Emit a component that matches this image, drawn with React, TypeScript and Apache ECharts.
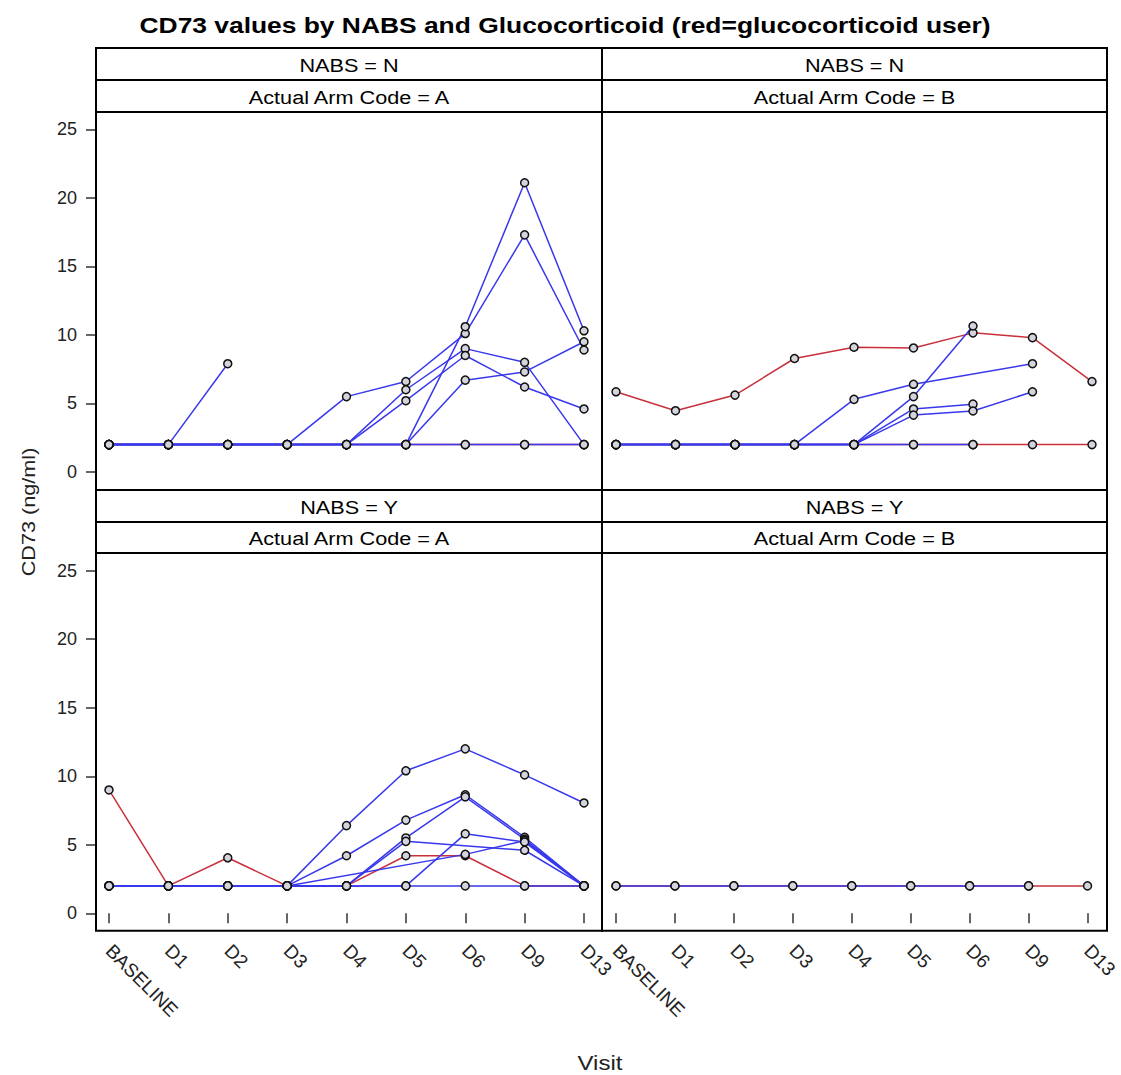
import React, { useEffect, useRef } from "react";
import * as echarts from "echarts";

const visits = ["BASELINE", "D1", "D2", "D3", "D4", "D5", "D6", "D9", "D13"];
const stripRow1 = ["NABS = N", "NABS = N", "NABS = Y", "NABS = Y"];
const stripRow2 = ["Actual Arm Code = A", "Actual Arm Code = B", "Actual Arm Code = A", "Actual Arm Code = B"];

// NABS = N, Arm A
const tlRed1 = [2, 2, 2, 2, 2, 2, 2, 2, 2];
const tlBlue1 = [2, 2, 7.9];
const tlBlue2 = [2, 2, 2, 2, 5.5, 6.6, 10.1, 17.3, 8.9];
const tlBlue3 = [2, 2, 2, 2, 2, 6.0, 9.0, 8.0, 2];
const tlBlue4 = [2, 2, 2, 2, 2, 5.2, 8.5, 6.2, 4.6];
const tlBlue5 = [2, 2, 2, 2, 2, 2, 10.6, 21.1, 10.3];
const tlBlue6 = [2, 2, 2, 2, 2, 2, 6.7, 7.3, 9.5];
const tlBlue7 = [2, 2, 2, 2, 2, 2, 2, 2, 2];

// NABS = N, Arm B
const trRed1 = [5.85, 4.47, 5.61, 8.28, 9.1, 9.05, 10.15, 9.8, 6.6];
const trRed2 = [2, 2, 2, 2, 2, 2, 2, 2, 2];
const trBlue1 = [2, 2, 2, 2, 5.3, 6.4, null, 7.9];
const trBlue2 = [2, 2, 2, 2, 2, 5.5, 10.65];
const trBlue3 = [2, 2, 2, 2, 2, 4.6, 4.95];
const trBlue4 = [2, 2, 2, 2, 2, 4.15, 4.45, 5.85];
const trBlue5 = [2, 2, 2, 2, 2, 2, 2];

// NABS = Y, Arm A
const blRed1 = [9.0, 2, 4.05, 2, 2, 4.2, 4.2, 2, 2];
const blBlue1 = [2, 2, 2, 2, 6.4, 10.4, 12.0, 10.1, 8.05];
const blBlue2 = [2, 2, 2, 2, 4.2, 6.8, 8.65, 5.55, 2];
const blBlue3 = [2, 2, 2, 2, 2, 5.5, 8.5, 5.4, 2];
const blBlue4 = [2, 2, 2, 2, null, null, 4.3, 5.3, 2];
const blBlue5 = [2, 2, 2, 2, 2, 2, 5.8, 5.2, 2];
const blBlue6 = [2, 2, 2, 2, 2, 5.25, null, 4.6, 2];
const blBlue7 = [2, 2, 2, 2, 2, 2, 2, 2, 2];

// NABS = Y, Arm B
const brRed1 = [2, 2, 2, 2, 2, 2, 2, 2, 2];
const brBlue1 = [2, 2, 2, 2, 2, 2, 2, 2];

const panelRed = [[tlRed1], [trRed1, trRed2], [blRed1], [brRed1]];
const panelBlue = [
  [tlBlue1, tlBlue2, tlBlue3, tlBlue4, tlBlue5, tlBlue6, tlBlue7],
  [trBlue1, trBlue2, trBlue3, trBlue4, trBlue5],
  [blBlue1, blBlue2, blBlue3, blBlue4, blBlue5, blBlue6, blBlue7],
  [brBlue1],
];

const RED = "#c8303c";
const BLUE = "#3838ec";
const FONT = "'Liberation Sans', Arial, sans-serif";

// layout
const colX = [
  [96, 602],
  [602, 1107],
];
const rowY = [
  { s1: 48, s2: 80, p0: 112, p1: 490, yTop: 129.3, yZero: 472 },
  { s1: 490, s2: 522, p0: 553, p1: 930.7, yTop: 570.7, yZero: 913.3 },
];
const dataX = [
  [109, 584],
  [616, 1092],
];

export default function App() {
  const ref = useRef<HTMLDivElement>(null);
  useEffect(() => {
    document.body.style.margin = "0";
    const chart = echarts.init(ref.current!, null, { renderer: "svg" });
    const grids: any[] = [];
    const xAxes: any[] = [];
    const yAxes: any[] = [];
    const series: any[] = [];
    const graphics: any[] = [];
    for (let p = 0; p < 4; p++) {
      const r = Math.floor(p / 2);
      const c = p % 2;
      const R = rowY[r];
      grids.push({
        left: dataX[c][0],
        width: dataX[c][1] - dataX[c][0],
        top: R.yTop,
        height: R.yZero - R.yTop,
        containLabel: false,
      });
      xAxes.push({
        type: "category",
        gridIndex: p,
        data: visits,
        boundaryGap: false,
        show: r === 1,
        offset: R.p1 - R.yZero,
        axisLine: { show: false },
        axisTick: { show: true, length: 10, lineStyle: { color: "#666", width: 2 } },
        axisLabel: {
          rotate: -45,
          fontSize: 19,
          color: "#222",
          fontFamily: FONT,
          margin: 17,
          interval: 0,
        },
        splitLine: { show: false },
      });
      yAxes.push({
        type: "value",
        gridIndex: p,
        min: 0,
        max: 25,
        interval: 5,
        show: c === 0,
        offset: dataX[c][0] - colX[c][0],
        axisLine: { show: false },
        axisTick: { show: true, length: 10, lineStyle: { color: "#666", width: 2 } },
        axisLabel: { fontSize: 18, color: "#222", fontFamily: FONT, margin: 19 },
        splitLine: { show: false },
      });
      const mk = (data: any[], color: string) => ({
        type: "line",
        xAxisIndex: p,
        yAxisIndex: p,
        data,
        connectNulls: true,
        symbol: "circle",
        symbolSize: 8,
        showAllSymbol: true,
        clip: false,
        lineStyle: { color, width: 1.5 },
        itemStyle: { color: "#d4d4dc", borderColor: "#111", borderWidth: 1.5 },
        silent: true,
      });
      panelRed[p].forEach((d) => series.push(mk(d, RED)));
      panelBlue[p].forEach((d) => series.push(mk(d, BLUE)));

      const x0 = colX[c][0];
      const w = colX[c][1] - colX[c][0];
      // strips
      [
        [R.s1, R.s2, stripRow1[p]],
        [R.s2, R.p0, stripRow2[p]],
      ].forEach(([a, b, t]: any) => {
        graphics.push({
          type: "rect",
          shape: { x: x0, y: a, width: w, height: b - a },
          style: { fill: "#fff", stroke: "#000", lineWidth: 2 },
          z: 10,
        });
        graphics.push({
          type: "text",
          x: x0 + w / 2,
          y: (a + b) / 2 + 1,
          scaleX: 1.14,
          style: {
            text: t,
            fontSize: 19,
            fontFamily: FONT,
            fill: "#000",
            align: "center",
            verticalAlign: "middle",
          },
          z: 11,
        });
      });
      graphics.push({
        type: "rect",
        shape: { x: x0, y: R.p0, width: w, height: R.p1 - R.p0 },
        style: { fill: "none", stroke: "#000", lineWidth: 2 },
        z: 10,
      });
    }
    graphics.push({
      type: "text",
      x: 565,
      y: 25,
      scaleX: 1.2,
      style: {
        text: "CD73 values by NABS and Glucocorticoid (red=glucocorticoid user)",
        fontSize: 22,
        fontWeight: "bold",
        fontFamily: FONT,
        fill: "#000",
        align: "center",
        verticalAlign: "middle",
      },
    });
    graphics.push({
      type: "text",
      x: 28,
      y: 512,
      rotation: Math.PI / 2,
      scaleX: 1.14,
      style: {
        text: "CD73 (ng/ml)",
        fontSize: 19,
        fontFamily: FONT,
        fill: "#222",
        align: "center",
        verticalAlign: "middle",
      },
    });
    graphics.push({
      type: "text",
      x: 600,
      y: 1063,
      scaleX: 1.2,
      style: {
        text: "Visit",
        fontSize: 20,
        fontFamily: FONT,
        fill: "#222",
        align: "center",
        verticalAlign: "middle",
      },
    });

    chart.setOption({
      animation: false,
      backgroundColor: "#fff",
      grid: grids,
      xAxis: xAxes,
      yAxis: yAxes,
      series,
      graphic: { elements: graphics },
    });
    return () => chart.dispose();
  }, []);
  return <div ref={ref} style={{ width: 1121, height: 1075 }} />;
}
